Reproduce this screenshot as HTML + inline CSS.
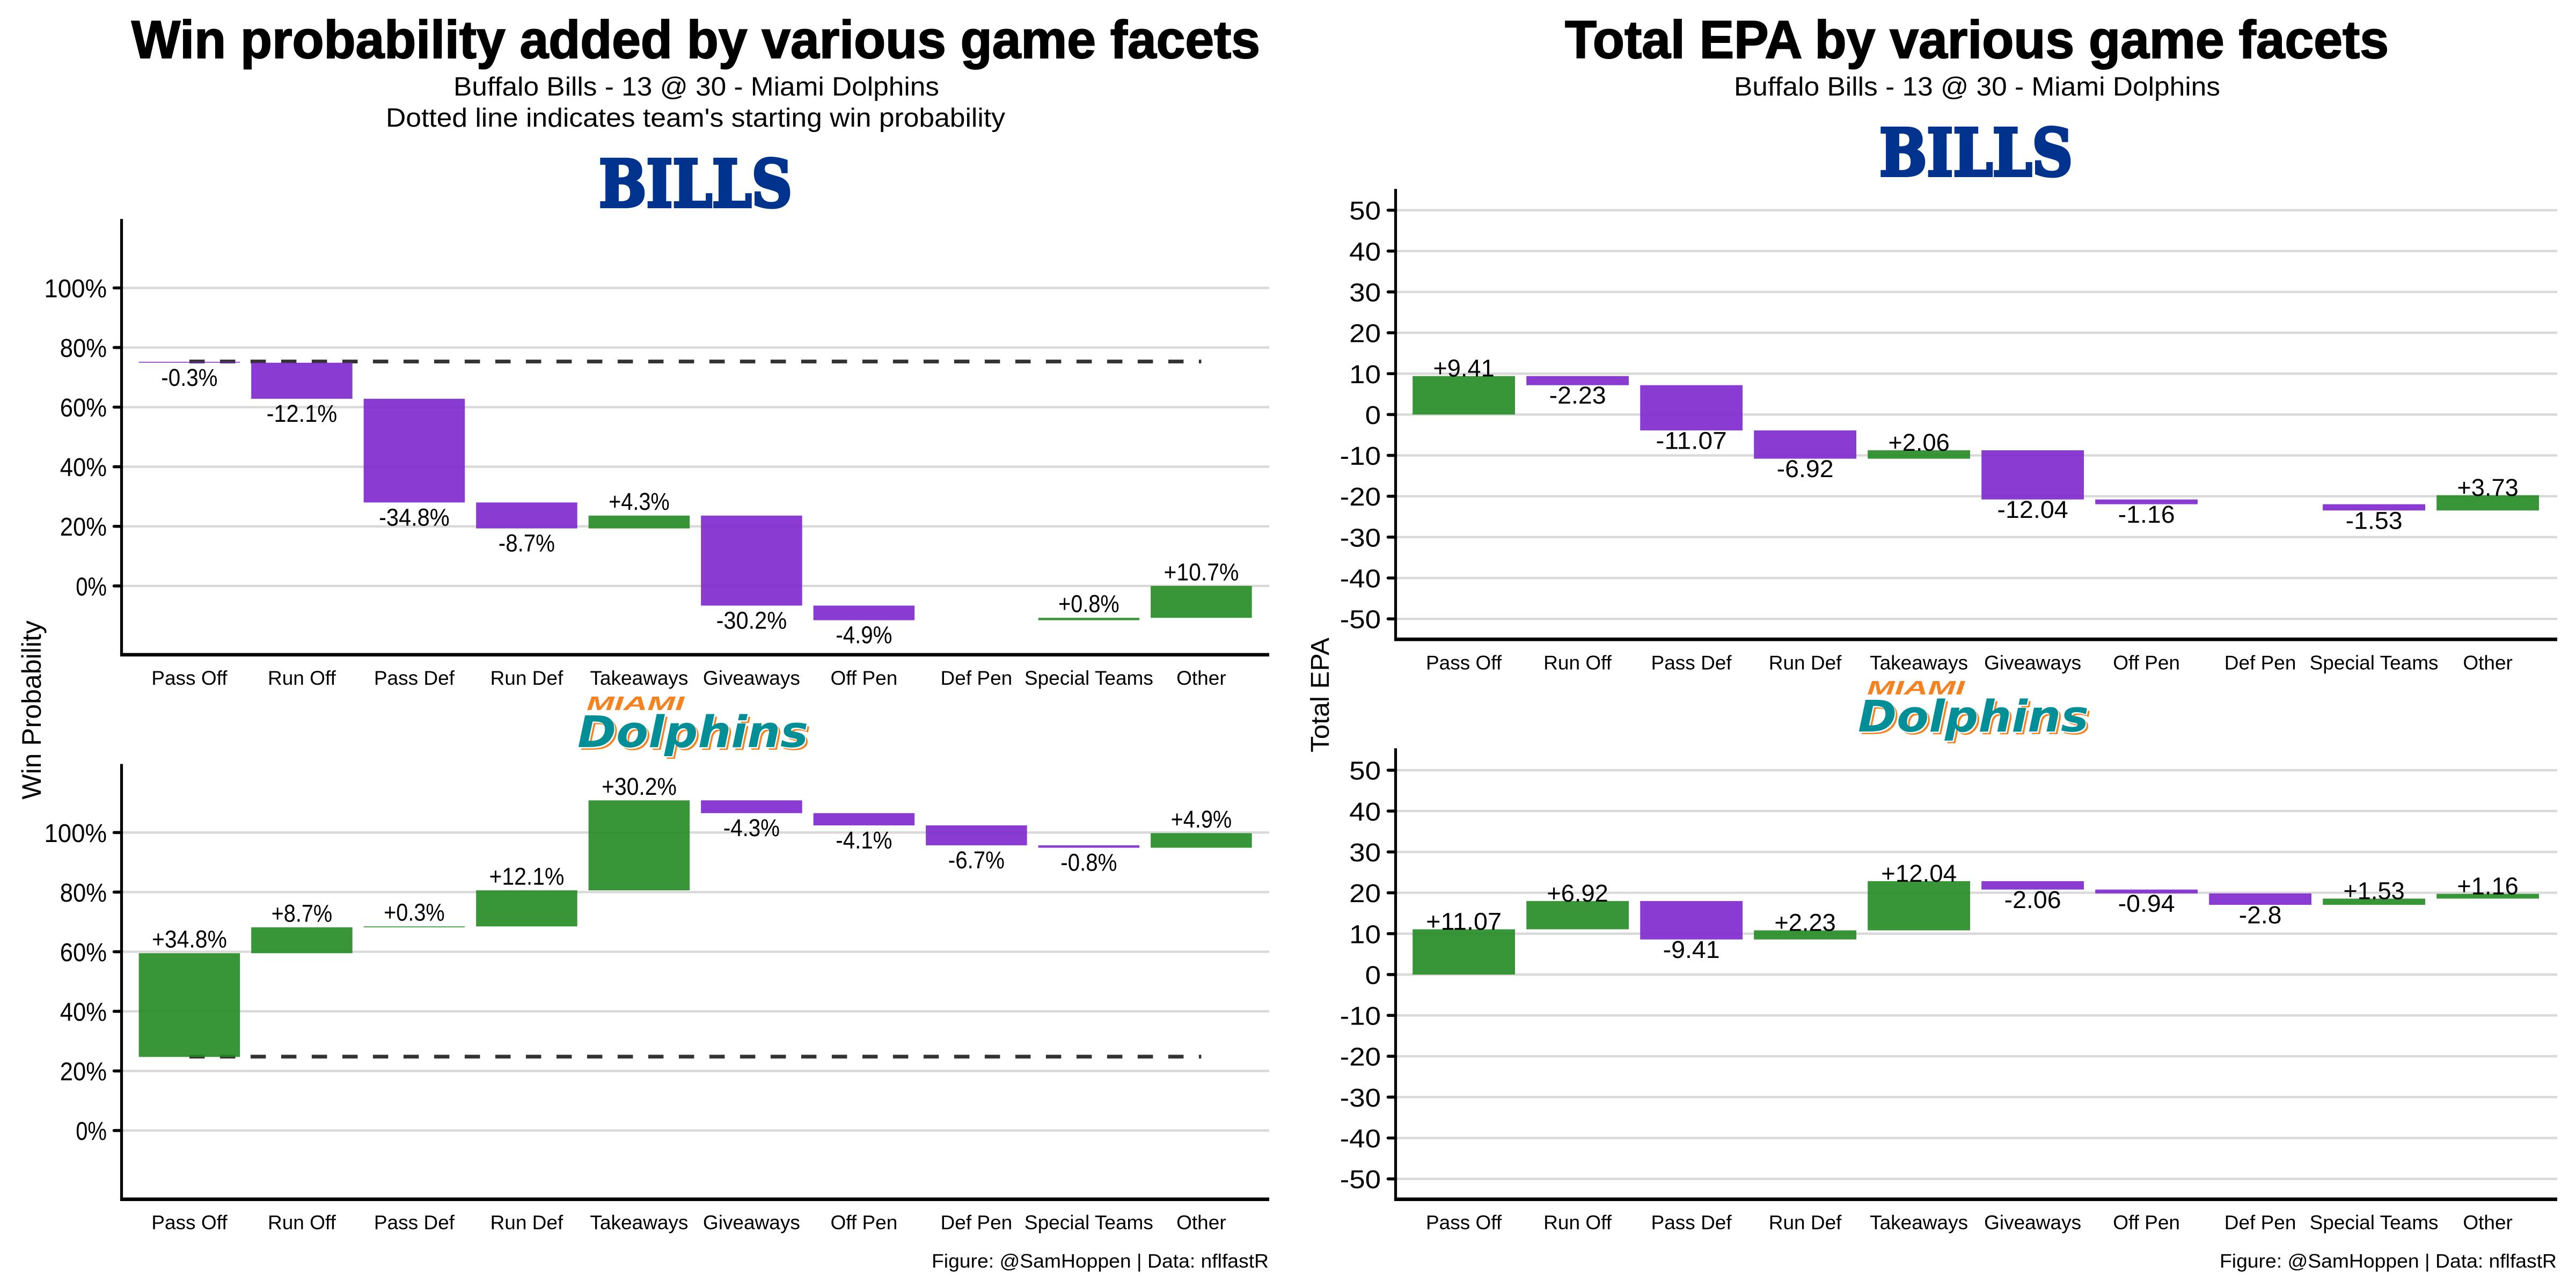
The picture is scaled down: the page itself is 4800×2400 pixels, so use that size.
<!DOCTYPE html>
<html lang="en">
<head>
<meta charset="utf-8">
<title>Win probability and EPA by game facets</title>
<style>
html,body{margin:0;padding:0;background:#fff;}
svg{display:block;}
text{font-family:"Liberation Sans",sans-serif;fill:#000;}
</style>
</head>
<body>
<svg id="chart" xmlns="http://www.w3.org/2000/svg" width="4800" height="2400" viewBox="0 0 4800 2400">
<rect width="4800" height="2400" fill="#fff"/>

<text x="245" y="108" font-size="99" font-weight="700" textLength="2103" lengthAdjust="spacingAndGlyphs" stroke="#000" stroke-width="2">Win probability added by various game facets</text>
<text x="845" y="178" font-size="49" textLength="905" lengthAdjust="spacingAndGlyphs">Buffalo Bills - 13 @ 30 - Miami Dolphins</text>
<text x="719" y="236" font-size="49" textLength="1154" lengthAdjust="spacingAndGlyphs">Dotted line indicates team's starting win probability</text>

<text x="2916" y="108" font-size="99" font-weight="700" textLength="1535" lengthAdjust="spacingAndGlyphs" stroke="#000" stroke-width="2">Total EPA by various game facets</text>
<text x="3231" y="178" font-size="49" textLength="906" lengthAdjust="spacingAndGlyphs">Buffalo Bills - 13 @ 30 - Miami Dolphins</text>

<text transform="translate(76,1323) rotate(-90)" text-anchor="middle" font-size="50">Win Probability</text>
<text transform="translate(2476,1295) rotate(-90)" text-anchor="middle" font-size="48" textLength="214" lengthAdjust="spacingAndGlyphs">Total EPA</text>

<g>
  <text x="1116" y="385" font-size="121" font-weight="700" textLength="360" lengthAdjust="spacingAndGlyphs" style="font-family:'DejaVu Serif',serif;fill:#00338D;stroke:#00338D;stroke-width:6">BILLS</text>
</g>
<g>
  <text x="3502" y="327" font-size="121" font-weight="700" textLength="360" lengthAdjust="spacingAndGlyphs" style="font-family:'DejaVu Serif',serif;fill:#00338D;stroke:#00338D;stroke-width:6">BILLS</text>
</g>
<g>
  <text x="1093" y="1323" font-size="36" font-weight="700" font-style="italic" textLength="182" lengthAdjust="spacingAndGlyphs" style="fill:#F58220">MIAMI</text>
  <text x="1081" y="1397" font-size="81" font-weight="700" font-style="italic" textLength="430" lengthAdjust="spacingAndGlyphs" style="font-family:'DejaVu Sans',sans-serif;fill:#F58220">Dolphins</text>
  <text x="1078" y="1394.5" font-size="81" font-weight="700" font-style="italic" textLength="430" lengthAdjust="spacingAndGlyphs" style="font-family:'DejaVu Sans',sans-serif;fill:#fff">Dolphins</text>
  <text x="1076" y="1392" font-size="81" font-weight="700" font-style="italic" textLength="430" lengthAdjust="spacingAndGlyphs" style="font-family:'DejaVu Sans',sans-serif;fill:#008E97">Dolphins</text>
</g>
<g transform="translate(2386,-29)">
  <text x="1093" y="1323" font-size="36" font-weight="700" font-style="italic" textLength="182" lengthAdjust="spacingAndGlyphs" style="fill:#F58220">MIAMI</text>
  <text x="1081" y="1397" font-size="81" font-weight="700" font-style="italic" textLength="430" lengthAdjust="spacingAndGlyphs" style="font-family:'DejaVu Sans',sans-serif;fill:#F58220">Dolphins</text>
  <text x="1078" y="1394.5" font-size="81" font-weight="700" font-style="italic" textLength="430" lengthAdjust="spacingAndGlyphs" style="font-family:'DejaVu Sans',sans-serif;fill:#fff">Dolphins</text>
  <text x="1076" y="1392" font-size="81" font-weight="700" font-style="italic" textLength="430" lengthAdjust="spacingAndGlyphs" style="font-family:'DejaVu Sans',sans-serif;fill:#008E97">Dolphins</text>
</g>

<text x="1736" y="2362" font-size="36" textLength="628" lengthAdjust="spacingAndGlyphs">Figure: @SamHoppen | Data: nflfastR</text>
<text x="4136" y="2362" font-size="36" textLength="628" lengthAdjust="spacingAndGlyphs">Figure: @SamHoppen | Data: nflfastR</text>
</svg>

<script>
// ---- chart data ----
const categories = ['Pass Off','Run Off','Pass Def','Run Def','Takeaways','Giveaways','Off Pen','Def Pen','Special Teams','Other'];
const wpTickValues = [0,20,40,60,80,100];
const wpTickLabels = ['0%','20%','40%','60%','80%','100%'];
const epaTickValues = [-50,-40,-30,-20,-10,0,10,20,30,40,50];
const epaTickLabels = ['-50','-40','-30','-20','-10','0','10','20','30','40','50'];
const billsWpStart = 75.2;
const dolphinsWpStart = 24.7;
const billsWpChanges = [-0.3,-12.1,-34.8,-8.7,4.3,-30.2,-4.9,0,0.8,10.7];
const dolphinsWpChanges = [34.8,8.7,0.3,12.1,30.2,-4.3,-4.1,-6.7,-0.8,4.9];
const billsEpaStart = 0;
const dolphinsEpaStart = 0;
const billsEpaChanges = [9.41,-2.23,-11.07,-6.92,2.06,-12.04,-1.16,0,-1.53,3.73];
const dolphinsEpaChanges = [11.07,6.92,-9.41,2.23,12.04,-2.06,-0.94,-2.8,1.53,1.16];

// ---- helpers ----
const svg = document.getElementById('chart');
const NS = 'http://www.w3.org/2000/svg';
function mk(tag, parent, props) {
  const el = document.createElementNS(NS, tag);
  for (const k in props) el.setAttribute(k, props[k]);
  parent.appendChild(el);
  return el;
}
const CHAR_EM = {'-':0.36,'+':0.55,'%':0.58,'.':0.25};
function labelWidth(str, em) {
  let w = 0;
  for (const c of str) w += (c in CHAR_EM ? CHAR_EM[c] : 0.6);
  return w * em;
}
function signed(v, suffix) {
  return (v > 0 ? '+' : '') + v + suffix;
}

function drawPanel(cfg) {
  const panel = mk('g', svg, {});
  
  

  const yScale = v => cfg.zeroY - v * cfg.pxPerUnit;
  const xCenter = i => cfg.firstCenter + i * cfg.step;
  const barW = cfg.step * 0.9;

  // gridlines + ticks + tick labels
  cfg.tickValues.forEach((t, i) => {
    const y = yScale(t);
    const grid = mk('line', panel, {x1: cfg.axisX, x2: cfg.rightX, y1: y, y2: y, stroke: '#d9d9d9', 'stroke-width': 4.4});
    
    

    const tick = mk('line', panel, {x1: cfg.axisX - 14, x2: cfg.axisX, y1: y, y2: y, stroke: '#000', 'stroke-width': 5.6, 'stroke-linecap': 'round'});
    
    

    const lab = mk('text', panel, {x: cfg.axisX - 27.5, y: y + 17.5, 'text-anchor': 'end', 'font-size': 48,
      textLength: labelWidth(cfg.tickLabels[i], 49).toFixed(1), lengthAdjust: 'spacingAndGlyphs'});
    lab.textContent = cfg.tickLabels[i];
    
    
  });

  // axes
  const yAxis = mk('line', panel, {x1: cfg.axisX, x2: cfg.axisX, y1: cfg.topY, y2: cfg.bottomY, stroke: '#000', 'stroke-width': 5.2});
  
  
  const xAxis = mk('line', panel, {x1: cfg.axisX - 2.6, x2: cfg.rightX, y1: cfg.bottomY, y2: cfg.bottomY, stroke: '#000', 'stroke-width': 6.6});
  
  

  // starting win probability line (below the bars)
  if (cfg.showStartLine) {
    const sy = yScale(cfg.start);
    const dash = mk('line', panel, {x1: xCenter(0), x2: xCenter(categories.length - 1), y1: sy - 0.6, y2: sy - 0.6,
      stroke: '#333', 'stroke-width': 7, 'stroke-dasharray': '28.5 28.5'});
    
    
  }

  // waterfall bars
  let running = cfg.start;
  cfg.changes.forEach((v, i) => {
    const from = running;
    const to = running + v;
    running = to;
    const top = yScale(Math.max(from, to));
    const bottom = yScale(Math.min(from, to));
    if (v !== 0) {
      const bar = mk('rect', panel, {x: xCenter(i) - barW / 2, y: top, width: barW, height: bottom - top,
        fill: v > 0 ? '#228B22' : '#7D26CD', 'fill-opacity': 0.9});
      
      
    }
  });

  // value labels
  running = cfg.start;
  cfg.changes.forEach((v, i) => {
    const from = running;
    const to = running + v;
    running = to;
    if (v === 0) return;
    const top = yScale(Math.max(from, to));
    const bottom = yScale(Math.min(from, to));
    const str = signed(v, cfg.suffix);
    const ly = v > 0 ? top - cfg.posGap : bottom + cfg.negGap;
    const lab = mk('text', panel, {x: xCenter(i), y: ly, 'text-anchor': 'middle', 'font-size': 45,
      textLength: labelWidth(str, 44).toFixed(1), lengthAdjust: 'spacingAndGlyphs'});
    lab.textContent = str;
    
    
  });

  // category labels
  categories.forEach((c, i) => {
    const lab = mk('text', panel, {x: xCenter(i), y: cfg.bottomY + 56, 'text-anchor': 'middle', 'font-size': 37});
    lab.textContent = c;
    
    
  });
}

// ---- panels ----
const wpX = {axisX: 226.5, rightX: 2365, firstCenter: 352.9, step: 209.5, tickValues: wpTickValues, tickLabels: wpTickLabels, suffix: '%', posGap: 10.5, negGap: 43, showStartLine: true, pxPerUnit: 5.553};
const epaX = {axisX: 2600.5, rightX: 4765, firstCenter: 2727.6, step: 212, tickValues: epaTickValues, tickLabels: epaTickLabels, suffix: '', posGap: -1, negGap: 34.5, showStartLine: false, pxPerUnit: 7.615};

drawPanel(Object.assign({}, wpX, {name: 'wp-bills-panel', start: billsWpStart, changes: billsWpChanges, zeroY: 1091.8, topY: 408, bottomY: 1220}));
drawPanel(Object.assign({}, wpX, {name: 'wp-dolphins-panel', start: dolphinsWpStart, changes: dolphinsWpChanges, zeroY: 2106.6, topY: 1423.5, bottomY: 2234.7}));
drawPanel(Object.assign({}, epaX, {name: 'epa-bills-panel', start: billsEpaStart, changes: billsEpaChanges, zeroY: 772.4, topY: 352, bottomY: 1191.3}));
drawPanel(Object.assign({}, epaX, {name: 'epa-dolphins-panel', start: dolphinsEpaStart, changes: dolphinsEpaChanges, zeroY: 1815.9, topY: 1394.4, bottomY: 2234.7}));
</script>
</body>
</html>
